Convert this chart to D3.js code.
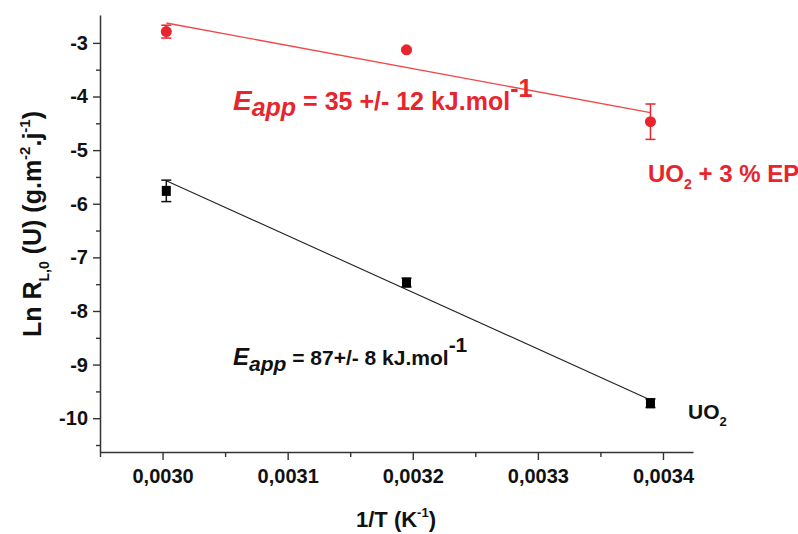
<!DOCTYPE html>
<html><head><meta charset="utf-8">
<script src="https://cdn.jsdelivr.net/npm/d3@7"></script>
<style>body{margin:0;background:#fff}svg{display:block}text{font-family:"Liberation Sans",Arial,sans-serif;font-weight:bold}</style>
</head><body><svg id="c" width="798" height="534"></svg>
<script>
// Data
const invT = [0.003003, 0.003195, 0.00339];
const uo2 = [-5.76, -7.47, -9.72];
const uo2Err = [0.2, 0.08, 0.08];
const uo2ep = [-2.79, -3.13, -4.47];
const uo2epErr = [0.12, 0.03, 0.33];
const fitX = [0.003003, 0.00339];
const fitUo2 = [-5.57, -9.66];
const fitUo2ep = [-2.63, -4.30];
const xTicks = [0.0030, 0.0031, 0.0032, 0.0033, 0.0034];
const xTickLabels = ["0,0030", "0,0031", "0,0032", "0,0033", "0,0034"];
const xMinor = [0.00295, 0.00305, 0.00315, 0.00325, 0.00335];
const yTicks = [-3, -4, -5, -6, -7, -8, -9, -10];
const yTickLabels = ["-3", "-4", "-5", "-6", "-7", "-8", "-9", "-10"];
const yMinor = [-3.5, -4.5, -5.5, -6.5, -7.5, -8.5, -9.5, -10.5];

const RED = "#e8242c";
const svg = d3.select("#c");
const x = d3.scaleLinear().domain([0.00295, 0.003424]).range([100, 693]);
const y = d3.scaleLinear().domain([-10.63, -2.48]).range([452, 15]);

// axes
const gx = svg.append("g").attr("transform", "translate(0,452)");
gx.call(d3.axisBottom(x).tickValues(xTicks).tickSize(8).tickSizeOuter(0)
  .tickFormat((d, i) => xTickLabels[i]));
gx.append("g").call(d3.axisBottom(x).tickValues(xMinor).tickSize(5).tickSizeOuter(0).tickFormat(""))
  .select(".domain").remove();
const gy = svg.append("g").attr("transform", "translate(100,0)");
gy.call(d3.axisLeft(y).tickValues(yTicks).tickSize(7).tickSizeOuter(0).tickFormat((d, i) => yTickLabels[i]));
gy.append("g").call(d3.axisLeft(y).tickValues(yMinor).tickSize(4).tickSizeOuter(0).tickFormat(""))
  .select(".domain").remove();
svg.selectAll(".domain").attr("stroke", "#333").attr("stroke-width", 1.5);
svg.selectAll(".tick line").attr("stroke", "#333").attr("stroke-width", 1.4);
gx.selectAll(".tick text").attr("font-size", 20).attr("fill", "#111").attr("dy", "1.0em")
  .attr("font-family", "'Liberation Sans',Arial,sans-serif").attr("font-weight", "bold");
gy.selectAll(".tick text").attr("font-size", 20).attr("fill", "#111").attr("dx", "-2")
  .attr("font-family", "'Liberation Sans',Arial,sans-serif").attr("font-weight", "bold");

// fit lines
const line = d3.line().x(d => x(d[0])).y(d => y(d[1]));
svg.append("path").datum(fitX.map((v, i) => [v, fitUo2ep[i]])).attr("d", line)
  .attr("fill", "none").attr("stroke", "#f04848").attr("stroke-width", 1.4);
svg.append("path").datum(fitX.map((v, i) => [v, fitUo2[i]])).attr("d", line)
  .attr("fill", "none").attr("stroke", "#222").attr("stroke-width", 1.1);

// error bars
function errBars(vals, errs, color) {
  const g = svg.append("g").attr("stroke", color).attr("stroke-width", 1.5);
  invT.forEach((t, i) => {
    const cx = x(t), y1 = y(vals[i] + errs[i]), y2 = y(vals[i] - errs[i]);
    g.append("line").attr("x1", cx).attr("x2", cx).attr("y1", y1).attr("y2", y2);
    g.append("line").attr("x1", cx - 5).attr("x2", cx + 5).attr("y1", y1).attr("y2", y1);
    g.append("line").attr("x1", cx - 5).attr("x2", cx + 5).attr("y1", y2).attr("y2", y2);
  });
}
errBars(uo2ep, uo2epErr, RED);
errBars(uo2, uo2Err, "#111");

// markers
svg.append("g").selectAll("circle").data(invT).join("circle")
  .attr("cx", d => x(d)).attr("cy", (d, i) => y(uo2ep[i])).attr("r", 5.5).attr("fill", RED);
svg.append("g").selectAll("rect").data(invT).join("rect")
  .attr("x", d => x(d) - 4.5).attr("y", (d, i) => y(uo2[i]) - 5).attr("width", 9).attr("height", 10).attr("fill", "#000");

// axis titles
svg.append("text").attr("x", 396).attr("y", 527).attr("text-anchor", "middle").attr("font-size", 22).attr("fill", "#111")
  .call(t => {
    t.append("tspan").text("1/T (K");
    t.append("tspan").attr("font-size", 13).attr("dy", -10).text("-1");
    t.append("tspan").attr("dy", 10).text(")");
  });
svg.append("text").attr("transform", "translate(41,224) rotate(-90)").attr("text-anchor", "middle")
  .attr("font-size", 25).attr("fill", "#111")
  .call(t => {
    t.append("tspan").text("Ln R");
    t.append("tspan").attr("font-size", 14).attr("dy", 8).text("L,0");
    t.append("tspan").attr("dy", -8).text(" (U) (g.m");
    t.append("tspan").attr("font-size", 15).attr("dy", -11).text("-2");
    t.append("tspan").attr("dy", 11).text(".j");
    t.append("tspan").attr("font-size", 15).attr("dy", -11).text("-1");
    t.append("tspan").attr("dy", 11).text(")");
  });

// annotations
function eapp(xp, yp, val, color, fs) {
  svg.append("text").attr("x", xp).attr("y", yp).attr("fill", color).attr("font-size", fs)
    .call(t => {
      t.append("tspan").attr("font-style", "italic").attr("font-size", fs + 3).text("E");
      t.append("tspan").attr("font-style", "italic").attr("font-size", fs).attr("dy", 6).text("app");
      t.append("tspan").attr("dy", -6).text(val);
      t.append("tspan").attr("font-size", fs).attr("dy", -13).text("-1");
    });
}
eapp(233, 110, " = 35 +/- 12 kJ.mol", RED, 25);
eapp(233, 365, " = 87+/- 8 kJ.mol", "#111", 21);

svg.append("text").attr("x", 648).attr("y", 182).attr("fill", RED).attr("font-size", 24)
  .call(t => {
    t.append("tspan").text("UO");
    t.append("tspan").attr("font-size", 14).attr("dy", 7).text("2");
    t.append("tspan").attr("dy", -7).text(" + 3 % EP");
  });
svg.append("text").attr("x", 688).attr("y", 419).attr("fill", "#111").attr("font-size", 21)
  .call(t => {
    t.append("tspan").text("UO");
    t.append("tspan").attr("font-size", 13).attr("dy", 7).text("2");
  });
</script></body></html>
